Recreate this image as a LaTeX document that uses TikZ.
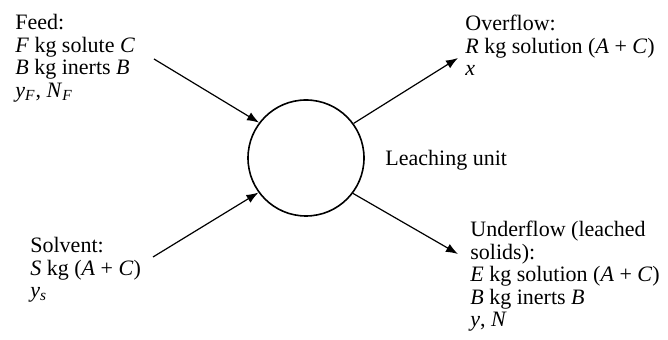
\documentclass[tikz,border=0pt]{standalone}
\usepackage{fontspec}
\setmainfont{Liberation Serif}
\usetikzlibrary{arrows.meta}
\newcommand{\vr}[1]{\textit{#1}}
\newcommand{\sbs}[1]{\textsubscript{\textit{#1}}}
\begin{document}
\begin{tikzpicture}[
  x=0.5pt,y=-0.5pt,
  every node/.style={font=\fontsize{11}{11.25}\selectfont},
  lbl/.style={anchor=north west,inner sep=0pt,align=left},
  U/.style={draw,circle,line width=0.8pt,minimum size=58pt,inner sep=0pt},
  ar/.style={-{Latex[length=6pt,width=4.5pt]},line width=0.6pt}
]
\useasboundingbox (0,0) rectangle (668,340);
\node[U](unit) at (306,158){};
\node[anchor=west,inner sep=0pt](ul) at (385,160){Leaching unit};

\node[lbl](feed) at (15,14)
  {Feed:\\ \vr{F} kg solute \vr{C}\\ \vr{B} kg inerts \vr{B}\\
   \vr{y}\sbs{F}, \vr{N}\sbs{F}};
\node[lbl](solv) at (30,237)
  {Solvent:\\ \vr{S} kg (\vr{A} + \vr{C})\\ \vr{y}\sbs{s}};
\node[lbl](over) at (465,15)
  {Overflow:\\ \vr{R} kg solution (\vr{A} + \vr{C})\\ \vr{x}};
\node[lbl](under) at (470,221)
  {Underflow (leached\\ solids):\\ \vr{E} kg solution (\vr{A} + \vr{C})\\
   \vr{B} kg inerts \vr{B}\\ \vr{y}, \vr{N}};

\coordinate (fin) at (154,59);
\coordinate (sin) at (153,257);
\coordinate (oout) at (458,58);
\coordinate (uout) at (458,254);

\draw[ar](fin)--(unit.143);
\draw[ar](sin)--(unit.216);
\draw[ar](unit.36)--(oout);
\draw[ar](unit.323)--(uout);
\end{tikzpicture}
\end{document}
